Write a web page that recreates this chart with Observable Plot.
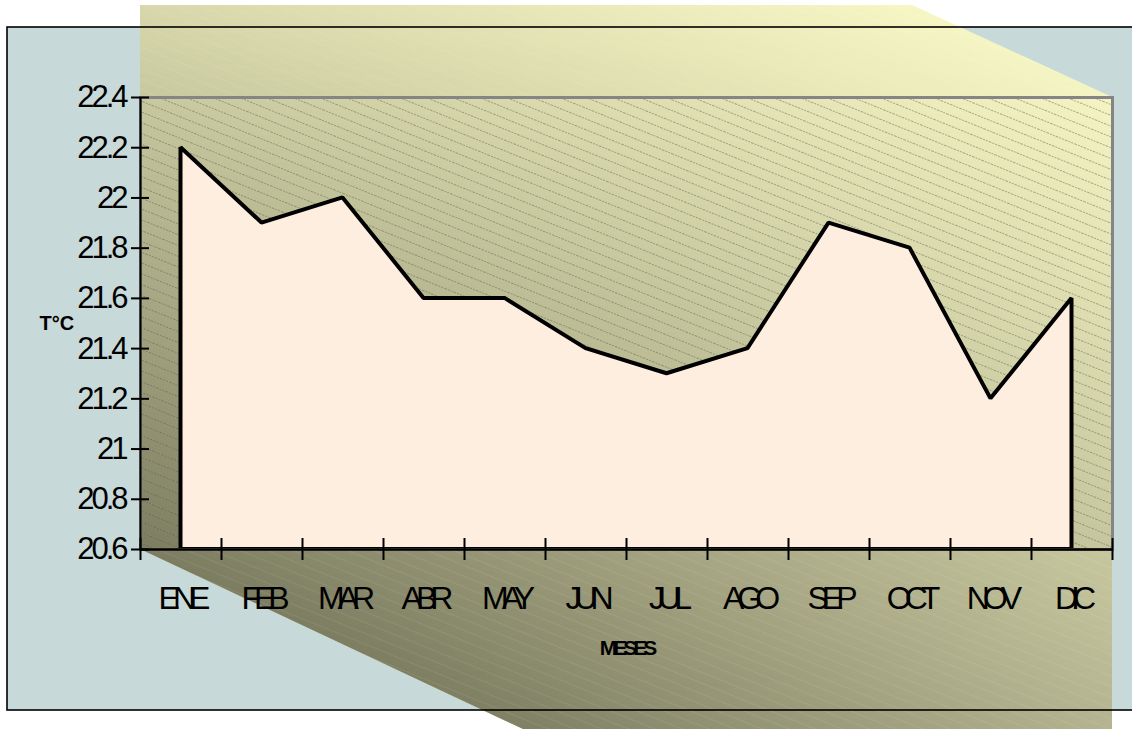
<!DOCTYPE html>
<html><head><meta charset="utf-8">
<script src="https://cdn.jsdelivr.net/npm/d3@7"></script>
<script src="https://cdn.jsdelivr.net/npm/@observablehq/plot@0.6"></script>
<style>body{margin:0;background:#fff;} #chart svg{display:block;}</style>
</head><body><div id="chart"></div>
<script>
const months = ["ENE","FEB","MAR","ABR","MAY","JUN","JUL","AGO","SEP","OCT","NOV","DIC"];
const temps = [22.2,21.9,22.0,21.6,21.6,21.4,21.3,21.4,21.9,21.8,21.2,21.6];
const yTicks = [20.6,20.8,21,21.2,21.4,21.6,21.8,22,22.2,22.4];
const yTickLabels = ["20.6","20.8","21","21.2","21.4","21.6","21.8","22","22.2","22.4"];
const xTitle = "MESES";
const yTitle = "T°C";

const data = months.map((m, i) => ({i, m, t: temps[i]}));
const bounds = d3.range(months.length + 1).map(k => k - 0.5);

const W = 1132, H = 729, mL = 140, mR = 20, mT = 97, mB = 180;
const font = "'Liberation Sans', Arial, Helvetica, sans-serif";

const plot = Plot.plot({
  width: W, height: H,
  marginLeft: mL, marginRight: mR, marginTop: mT, marginBottom: mB,
  style: {fontFamily: font, background: "transparent", color: "black", overflow: "visible"},
  x: {type: "linear", domain: [-0.5, months.length - 0.5], axis: null},
  y: {domain: [20.6, 22.4], axis: null},
  marks: [
    Plot.frame({fill: "url(#hatch)", stroke: "none"}),
    Plot.areaY(data, {x: "i", y1: 20.6, y2: "t", fill: "#fdeee0", stroke: "black", strokeWidth: 4, strokeLinejoin: "miter"}),
    Plot.frame({stroke: "#858585", strokeWidth: 3}),
    Plot.ruleY([20.6], {stroke: "black", strokeWidth: 2.5}),
    Plot.ruleX([-0.5], {stroke: "black", strokeWidth: 2}),
    Plot.axisY(yTicks, {tickSize: 18, dx: 9, tickPadding: 6, tickFormat: (d, i) => yTickLabels[i], fontSize: 31, strokeWidth: 2, label: null}),
    Plot.axisX(bounds, {tickSize: 22, dy: -11, tickFormat: () => "", strokeWidth: 2, label: null}),
    Plot.text(data, {x: "i", text: "m", frameAnchor: "bottom", dy: 49, fontSize: 32, lineAnchor: "middle"}),
    Plot.text([xTitle], {text: d => d, frameAnchor: "bottom", dy: 99, fontSize: 21, fontWeight: "bold", lineAnchor: "middle"}),
    Plot.text([yTitle], {text: d => d, frameAnchor: "left", dx: -101, textAnchor: "start", fontSize: 20, fontWeight: "bold", lineAnchor: "middle"})
  ]
});

document.getElementById("chart").appendChild(plot);

// decorative background built from the frame geometry
const svg = d3.select(plot);
const L = mL, R = W - mR, T = mT, B = H - mB;
const defs = svg.insert("defs", ":first-child");

const gTop = defs.append("linearGradient").attr("id", "gTop").attr("gradientUnits", "userSpaceOnUse")
  .attr("x1", L).attr("y1", 0).attr("x2", R).attr("y2", 0);
gTop.append("stop").attr("offset", 0).attr("stop-color", "#d8d8ac");
gTop.append("stop").attr("offset", 1).attr("stop-color", "#fefecb");
const gBot = defs.append("linearGradient").attr("id", "gBot").attr("gradientUnits", "userSpaceOnUse")
  .attr("x1", L).attr("y1", 0).attr("x2", R).attr("y2", 0);
gBot.append("stop").attr("offset", 0).attr("stop-color", "#5e5e48");
gBot.append("stop").attr("offset", 1).attr("stop-color", "#b4b490");
const gV = defs.append("linearGradient").attr("id", "gV").attr("gradientUnits", "userSpaceOnUse")
  .attr("x1", 0).attr("y1", 5).attr("x2", 0).attr("y2", H);
gV.append("stop").attr("offset", 0).attr("stop-color", "#000");
gV.append("stop").attr("offset", 1).attr("stop-color", "#fff");
defs.append("mask").attr("id", "mV").attr("maskUnits", "userSpaceOnUse")
  .attr("x", 0).attr("y", 0).attr("width", W).attr("height", H)
  .append("rect").attr("width", W).attr("height", H).attr("fill", "url(#gV)");

const hatch = defs.append("pattern").attr("id", "hatch").attr("patternUnits", "userSpaceOnUse")
  .attr("width", 10).attr("height", 10).attr("patternTransform", "rotate(22)");
hatch.append("line").attr("x1", 0).attr("y1", 0.5).attr("x2", 10).attr("y2", 0.5)
  .attr("stroke", "#4a4a38").attr("stroke-opacity", 0.42).attr("stroke-width", 1).attr("stroke-dasharray", "2 1");
const faint = defs.append("pattern").attr("id", "faint").attr("patternUnits", "userSpaceOnUse")
  .attr("width", 10).attr("height", 10).attr("patternTransform", "rotate(22)");
faint.append("line").attr("x1", 0).attr("y1", 0.5).attr("x2", 10).attr("y2", 0.5)
  .attr("stroke", "#ffffff").attr("stroke-opacity", 0.08).attr("stroke-width", 1);

const bg = svg.insert("g", "defs + *").attr("aria-label", "background");
bg.append("rect").attr("x", 0).attr("y", 0).attr("width", W).attr("height", H).attr("fill", "#ffffff");
bg.append("rect").attr("x", 7).attr("y", 27).attr("width", W + 20).attr("height", 683).attr("fill", "#c8d9d9");
const poly = [[L, 5], [R - 200, 5], [R, T], [R, H], [L + 383, H], [L, B]].map(p => p.join(",")).join(" ");
bg.append("polygon").attr("points", poly).attr("fill", "url(#gTop)");
bg.append("polygon").attr("points", poly).attr("fill", "url(#gBot)").attr("mask", "url(#mV)");
bg.append("polygon").attr("points", poly).attr("fill", "url(#faint)");
bg.append("rect").attr("x", 7).attr("y", 27).attr("width", W + 20).attr("height", 683)
  .attr("fill", "none").attr("stroke", "#000").attr("stroke-width", 1.6);

// tight letter spacing as in the original
svg.selectAll("text").each(function () {
  const s = this.textContent.trim();
  let px = null;
  if (months.includes(s)) px = -7;
  else if (yTickLabels.includes(s)) px = -3;
  else if (s === xTitle) px = -4;
  else if (s === yTitle) px = 0;
  if (px !== null) {
    this.setAttribute("letter-spacing", px);
    this.style.letterSpacing = px + "px";
  }
});
</script>
</body></html>
